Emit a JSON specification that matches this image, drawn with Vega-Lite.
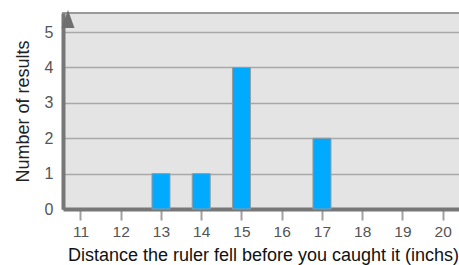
{
  "$schema": "https://vega.github.io/schema/vega-lite/v6.json",
  "width": 400,
  "height": 196,
  "autosize": {"type": "none"},
  "padding": {"left": 63, "top": 13, "right": 0, "bottom": 56},
  "background": "white",
  "config": {
    "view": {"fill": "#e4e4e4", "stroke": "#9a9a9a", "strokeWidth": 2},
    "font": "Liberation Sans"
  },
  "encoding": {
    "x": {
      "field": "distance", "type": "quantitative",
      "scale": {"domain": [10.69, 20.38], "nice": false, "zero": false},
      "axis": {
        "values": [11, 12, 13, 14, 15, 16, 17, 18, 19, 20],
        "grid": false,
        "ticks": true,
        "domainColor": "#777777", "domainWidth": 4,
        "tickColor": "#a0a0a0", "tickWidth": 2, "tickSize": 11,
        "labelFontSize": 15.5, "labelColor": "#555555", "labelPadding": 4,
        "title": "Distance the ruler fell before you caught it (inchs)",
        "titleFontSize": 18, "titleFontWeight": "normal", "titleColor": "#111111",
        "titlePadding": 7
      }
    },
    "y": {
      "field": "count", "type": "quantitative",
      "scale": {"domain": [0, 5.54], "nice": false},
      "axis": {
        "values": [0, 1, 2, 3, 4, 5],
        "grid": true, "gridColor": "#a8a8a8", "gridWidth": 1.5,
        "ticks": false,
        "domainColor": "#777777", "domainWidth": 4,
        "labelFontSize": 16, "labelColor": "#555555", "labelPadding": 10,
        "title": "Number of results",
        "titleFontSize": 18, "titleFontWeight": "normal", "titleColor": "#222222",
        "titlePadding": 12
      }
    }
  },
  "layer": [
    {
      "data": {"values": [
        {"distance": 13, "count": 1},
        {"distance": 14, "count": 1},
        {"distance": 15, "count": 4},
        {"distance": 17, "count": 2}
      ]},
      "mark": {"type": "bar", "size": 18, "fill": "#00aaff", "stroke": "#9a9a9a", "strokeWidth": 1}
    },
    {
      "data": {"values": [{"distance": 10.69, "count": 5.37}]},
      "mark": {"type": "point", "shape": "M0,-1L0.72,1L-0.72,1Z", "filled": true, "fill": "#6f6f6f", "opacity": 1, "size": 324, "clip": false}
    }
  ]
}
